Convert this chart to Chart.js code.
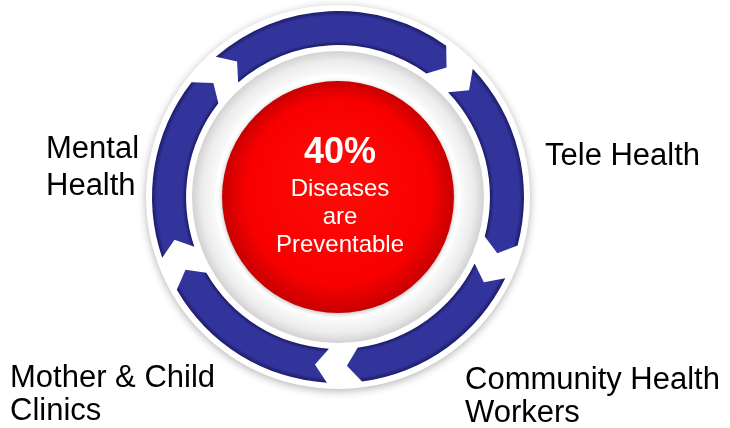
<!DOCTYPE html>
<html>
<head>
<meta charset="utf-8">
<script src="https://cdn.jsdelivr.net/npm/chart.js@4.4.1/dist/chart.umd.min.js"></script>
<style>
  html, body { margin: 0; padding: 0; background: #fff; }
  #wrap { width: 730px; height: 428px; position: relative; }
</style>
</head>
<body>
<div id="wrap"><canvas id="cycle"></canvas></div>
<script>
// cycle steps, clockwise starting from the top arrow (sweep = degrees of the ring)
const steps = ['', 'Tele Health', ['Community Health', 'Workers'], ['Mother & Child', 'Clinics'], ['Mental', 'Health']];
const sweep = [87.5, 69.5, 67.5, 67.5, 68];
const headline = '40%';
const subline = ['Diseases', 'are', 'Preventable'];

// where each step caption sits (left x, first baseline, line height)
const captionAt = [
    null,
    { x: 545, y: 165, lh: 33 },
    { x: 465, y: 389, lh: 33 },
    { x: 10, y: 387, lh: 33 },
    { x: 46, y: 158, lh: 37 }
];

const FONT = '"Liberation Sans", Arial, Helvetica, sans-serif';

function ringPath(ctx, x, y, r1, r2) {
    ctx.beginPath();
    ctx.arc(x, y, r1, 0, Math.PI * 2);
    ctx.arc(x, y, r2, 0, Math.PI * 2, true);
    ctx.closePath();
}

const cycleRing = {
    id: 'cycleRing',
    beforeDatasetsDraw(chart) {
        const first = chart.getDatasetMeta(0).data[0];
        const { x, y, innerRadius: ri, outerRadius: ro } = first.getProps(['x', 'y', 'innerRadius', 'outerRadius'], true);
        const ctx = chart.ctx;
        ctx.save();

        // white halo behind the arrows, soft shadow outside
        ctx.shadowColor = 'rgba(0,0,0,0.3)';
        ctx.shadowBlur = 8;
        ctx.shadowOffsetY = 2;
        ctx.fillStyle = '#fff';
        ctx.beginPath();
        ctx.arc(x, y, ro + 6, 0, Math.PI * 2);
        ctx.fill();
        ctx.shadowColor = 'transparent';

        // light grey trough between arrows and centre disc
        const trough = ctx.createRadialGradient(x, y, ri - 30, x, y, ri - 6);
        trough.addColorStop(0, '#fbfbfb');
        trough.addColorStop(0.6, '#ececec');
        trough.addColorStop(1, '#d2d2d2');
        ctx.fillStyle = trough;
        ringPath(ctx, x, y, ri - 6, ri - 30);
        ctx.fill();

        // white rim + red disc
        ctx.fillStyle = '#fff';
        ctx.beginPath();
        ctx.arc(x, y, ri - 29, 0, Math.PI * 2);
        ctx.fill();

        const rr = ri - 36;
        const red = ctx.createRadialGradient(x, y - 25, 0, x, y, rr);
        red.addColorStop(0, '#ff0a0a');
        red.addColorStop(0.8, '#f80000');
        red.addColorStop(1, '#c80000');
        ctx.shadowColor = 'rgba(0,0,0,0.3)';
        ctx.shadowBlur = 4;
        ctx.shadowOffsetY = 1;
        ctx.fillStyle = red;
        ctx.beginPath();
        ctx.arc(x, y, rr, 0, Math.PI * 2);
        ctx.fill();
        ctx.restore();
    },
    beforeDatasetDraw() {
        // arcs are replaced by chevron arrows below
        return false;
    },
    afterDatasetsDraw(chart) {
        const meta = chart.getDatasetMeta(0);
        const ctx = chart.ctx;
        const base = chart.data.datasets[0].backgroundColor;
        ctx.save();

        meta.data.forEach((el) => {
            const { x, y, startAngle, endAngle, innerRadius: ri, outerRadius: ro } =
                el.getProps(['x', 'y', 'startAngle', 'endAngle', 'innerRadius', 'outerRadius'], true);
            const mid = (ri + ro) / 2;
            const gap = 32 / mid;
            const tip = 13 / mid;
            const s = startAngle + gap / 2;
            const e = endAngle - gap / 2;

            const shade = ctx.createRadialGradient(x, y, ri, x, y, ro);
            shade.addColorStop(0, '#1c1c68');
            shade.addColorStop(0.12, base);
            shade.addColorStop(0.85, base);
            shade.addColorStop(1, '#1c1c68');
            ctx.fillStyle = shade;

            ctx.beginPath();
            ctx.arc(x, y, ro, s, e);
            ctx.lineTo(x + mid * Math.cos(e + tip), y + mid * Math.sin(e + tip));
            ctx.arc(x, y, ri, e, s, true);
            ctx.lineTo(x + mid * Math.cos(s + tip), y + mid * Math.sin(s + tip));
            ctx.closePath();
            ctx.fill();
        });

        // centre message
        const { x, y } = meta.data[0];
        ctx.fillStyle = '#fff';
        ctx.textAlign = 'center';
        ctx.textBaseline = 'alphabetic';
        ctx.font = 'bold 36px ' + FONT;
        ctx.fillText(headline, x + 2, y - 34);
        ctx.font = '24px ' + FONT;
        subline.forEach((t, i) => ctx.fillText(t, x + 2, y - 1 + i * 28));

        // step captions
        ctx.fillStyle = '#000';
        ctx.textAlign = 'left';
        ctx.font = '31px ' + FONT;
        chart.data.labels.forEach((lab, i) => {
            const at = captionAt[i];
            if (!at) return;
            [].concat(lab).forEach((line, j) => ctx.fillText(line, at.x, at.y + j * at.lh));
        });
        ctx.restore();
    }
};

new Chart(document.getElementById('cycle'), {
    type: 'doughnut',
    data: {
        labels: steps,
        datasets: [{
            data: sweep,
            backgroundColor: '#32349c',
            borderWidth: 0
        }]
    },
    options: {
        responsive: true,
        maintainAspectRatio: false,
        animation: false,
        events: [],
        rotation: -46.5,
        radius: 186,
        cutout: '81.7%',
        layout: { padding: { left: 0, right: 54, top: 0, bottom: 34 } },
        plugins: {
            legend: { display: false },
            tooltip: { enabled: false }
        }
    },
    plugins: [cycleRing]
});
</script>
</body>
</html>
